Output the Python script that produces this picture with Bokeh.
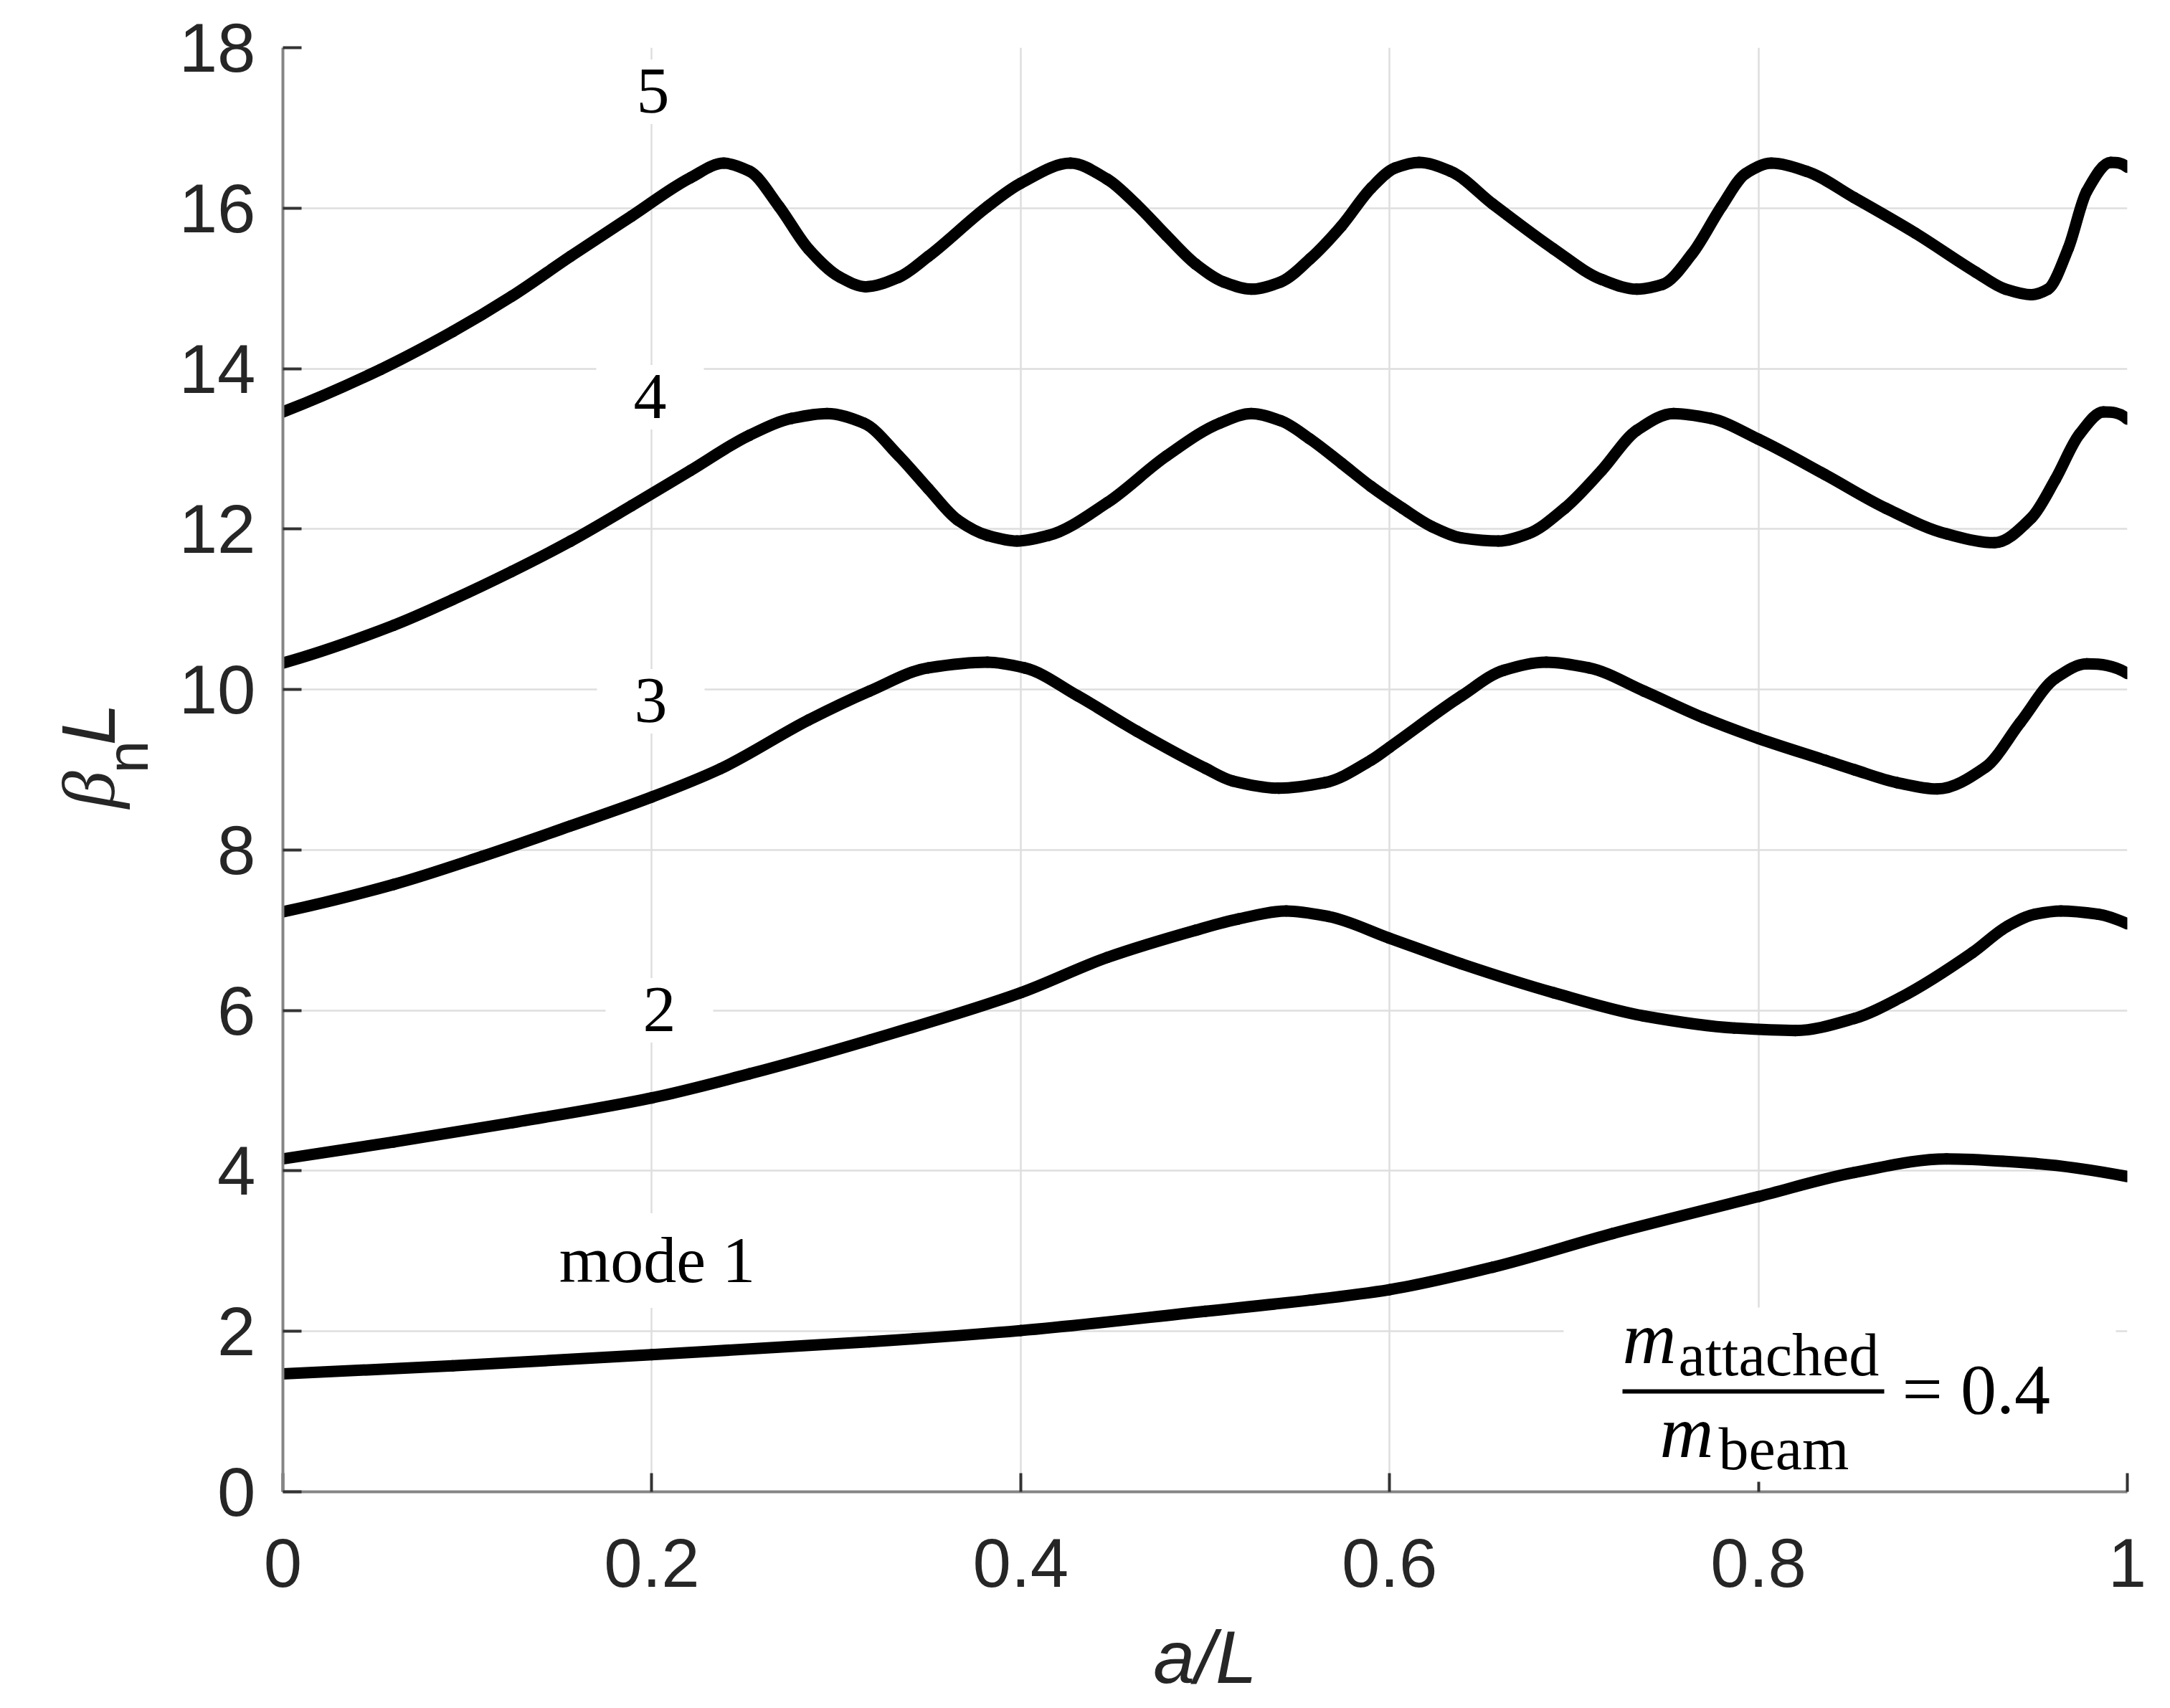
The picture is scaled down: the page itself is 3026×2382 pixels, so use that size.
import math
import numpy as np
from bokeh.plotting import figure
from bokeh.layouts import row
from bokeh.models import Range1d, FixedTicker, Label, BoxAnnotation, ColumnDataSource
from bokeh.core.properties import value
from bokeh.embed import file_html
from bokeh.resources import INLINE

# ---------------- data ----------------
mode1_x = [0.0, 0.092, 0.2, 0.318, 0.4, 0.5, 0.557, 0.6, 0.656, 0.721, 0.8, 0.852, 0.902, 0.951, 1.0]
mode1_y = [1.47, 1.57, 1.71, 1.87, 2.01, 2.25, 2.39, 2.52, 2.80, 3.22, 3.68, 3.98, 4.15, 4.09, 3.93]

mode2_x = [0.0, 0.060, 0.124, 0.2, 0.253, 0.318, 0.4, 0.447, 0.495, 0.518, 0.544, 0.567, 0.6,
           0.639, 0.689, 0.738, 0.787, 0.820, 0.852, 0.877, 0.916, 0.935, 0.950, 0.964, 0.984, 1.0]
mode2_y = [4.15, 4.36, 4.60, 4.91, 5.21, 5.63, 6.22, 6.66, 7.00, 7.14, 7.24, 7.17, 6.90,
           6.58, 6.22, 5.93, 5.78, 5.75, 5.90, 6.16, 6.72, 7.05, 7.20, 7.24, 7.20, 7.08]

mode3_x = [0.0, 0.060, 0.108, 0.156, 0.2, 0.237, 0.285, 0.318, 0.350, 0.382, 0.402, 0.431, 0.463,
           0.5, 0.515, 0.540, 0.565, 0.590, 0.6, 0.639, 0.662, 0.685, 0.708, 0.738, 0.770, 0.8,
           0.836, 0.852, 0.875, 0.897, 0.923, 0.942, 0.961, 0.978, 1.0]
mode3_y = [7.23, 7.57, 7.92, 8.30, 8.66, 9.01, 9.62, 9.98, 10.27, 10.34, 10.27, 9.92, 9.48,
           9.02, 8.86, 8.77, 8.84, 9.12, 9.28, 9.92, 10.24, 10.34, 10.27, 9.98, 9.65, 9.39,
           9.12, 9.00, 8.84, 8.76, 9.03, 9.59, 10.14, 10.32, 10.20]

mode4_x = [0.0, 0.060, 0.092, 0.124, 0.156, 0.189, 0.221, 0.253, 0.276, 0.295, 0.315, 0.334,
           0.350, 0.366, 0.382, 0.398, 0.415, 0.447, 0.479, 0.508, 0.525, 0.541, 0.557,
           0.574, 0.590, 0.607, 0.623, 0.639, 0.659, 0.675, 0.695, 0.715, 0.734, 0.754, 0.774,
           0.8, 0.836, 0.869, 0.902, 0.928, 0.948, 0.961, 0.974, 0.987, 1.0]
mode4_y = [10.33, 10.80, 11.12, 11.47, 11.85, 12.29, 12.73, 13.17, 13.38, 13.44, 13.32, 12.91,
           12.50, 12.11, 11.92, 11.85, 11.92, 12.33, 12.91, 13.32, 13.44, 13.35, 13.12,
           12.82, 12.53, 12.26, 12.03, 11.89, 11.85, 11.94, 12.26, 12.73, 13.23, 13.44, 13.38,
           13.12, 12.68, 12.26, 11.94, 11.83, 12.14, 12.62, 13.18, 13.46, 13.37]

mode5_x = [0.0, 0.053, 0.092, 0.124, 0.156, 0.189, 0.221, 0.239, 0.253, 0.269, 0.285,
           0.302, 0.316, 0.334, 0.350, 0.382, 0.4, 0.427, 0.447, 0.463, 0.479, 0.495, 0.510,
           0.525, 0.541, 0.557, 0.574, 0.590, 0.603, 0.616, 0.633, 0.656, 0.689, 0.715, 0.734,
           0.748, 0.764, 0.780, 0.793, 0.807, 0.826, 0.852, 0.885, 0.918, 0.934, 0.948, 0.957,
           0.968, 0.978, 0.991, 1.0]
mode5_y = [13.46, 13.99, 14.46, 14.90, 15.40, 15.90, 16.38, 16.56, 16.46, 16.02, 15.49,
           15.14, 15.02, 15.14, 15.40, 16.02, 16.31, 16.56, 16.36, 16.04, 15.66, 15.30, 15.08,
           14.99, 15.08, 15.37, 15.78, 16.25, 16.50, 16.57, 16.46, 16.05, 15.49, 15.11, 14.99,
           15.05, 15.43, 16.02, 16.43, 16.56, 16.46, 16.13, 15.69, 15.20, 14.99, 14.92, 14.99,
           15.50, 16.21, 16.57, 16.51]

mode_labels = ["mode 1", "2", "3", "4", "5"]
x_ticks = [0, 0.2, 0.4, 0.6, 0.8, 1]
y_ticks = [0, 2, 4, 6, 8, 10, 12, 14, 16, 18]
ratio_text = "= 0.4"

# ---------------- geometry ----------------
X_MIN, X_MAX, Y_MIN, Y_MAX = 0.0, 1.0, 0.0, 18.0
PAGE_W, PAGE_H = 3026, 2382
FL, FR, FT, FB = 394, 2966, 66, 2080      # frame edges in page pixels
LW = 240                                  # width of the strip holding the y-axis title
FIG_H = PAGE_H - 4
BASE_FIX = 0.31                           # em offset of the rendered alphabetic baseline
STRIP_DY = 98                             # measured vertical offset of the strip's text


def px2x(X):
    return X_MIN + (X - FL) / (FR - FL) * (X_MAX - X_MIN)


def px2y(Y):
    return Y_MIN + (FB - Y) / (FB - FT) * (Y_MAX - Y_MIN)


p = figure(
    frame_width=FR - FL, frame_height=FB - FT,
    x_range=Range1d(X_MIN, X_MAX), y_range=Range1d(Y_MIN, Y_MAX),
    output_backend="svg", toolbar_location=None,
    min_border_left=FL - LW, min_border_top=FT,
    min_border_right=PAGE_W - FR - 4, min_border_bottom=FIG_H - FB,
    background_fill_color="white", border_fill_color="white",
)
p.outline_line_color = None

# grid
for g in (p.xgrid[0], p.ygrid[0]):
    g.grid_line_color = "#dedede"
    g.grid_line_width = 2.5

# axes
p.xaxis.ticker = FixedTicker(ticks=x_ticks)
p.yaxis.ticker = FixedTicker(ticks=y_ticks)
p.xaxis.major_label_overrides = {0: "0", 1: "1"}
for ax in (p.xaxis[0], p.yaxis[0]):
    ax.axis_line_color = "#858585"
    ax.axis_line_width = 4
    ax.major_tick_line_color = "#333333"
    ax.major_tick_line_width = 4
    ax.major_tick_in = 26
    ax.major_tick_out = 0
    ax.minor_tick_line_color = None
    ax.major_label_text_font = "Liberation Sans"
    ax.major_label_text_font_size = "96px"
    ax.major_label_text_color = "#262626"
p.xaxis.major_label_standoff = 65
p.yaxis.major_label_standoff = 38

p.xaxis.axis_label = "a/L"
p.xaxis.axis_label_text_font = "Liberation Sans"
p.xaxis.axis_label_text_font_style = "italic"
p.xaxis.axis_label_text_font_size = "104px"
p.xaxis.axis_label_text_color = "#262626"
p.xaxis.axis_label_standoff = 37


# curves: smooth cubic segments through the read points (monotone Hermite tangents)
def hermite_slopes(x, y):
    x = np.asarray(x, float)
    y = np.asarray(y, float)
    h = np.diff(x)
    d = np.diff(y) / h
    m = np.zeros_like(y)
    for k in range(1, len(y) - 1):
        if d[k - 1] * d[k] > 0:
            w1 = 2 * h[k] + h[k - 1]
            w2 = h[k] + 2 * h[k - 1]
            m[k] = (w1 + w2) / (w1 / d[k - 1] + w2 / d[k])

    def end(h0, h1, d0, d1):
        s = ((2 * h0 + h1) * d0 - h0 * d1) / (h0 + h1)
        if np.sign(s) != np.sign(d0):
            return 0.0
        if np.sign(d0) != np.sign(d1) and abs(s) > 3 * abs(d0):
            return 3 * d0
        return s

    m[0] = end(h[0], h[1], d[0], d[1])
    m[-1] = end(h[-1], h[-2], d[-1], d[-2])
    return x, y, h, m


def smooth_curve(xs, ys):
    x, y, h, m = hermite_slopes(xs, ys)
    src = ColumnDataSource(dict(
        x0=x[:-1], y0=y[:-1], x1=x[1:], y1=y[1:],
        cx0=x[:-1] + h / 3, cy0=y[:-1] + m[:-1] * h / 3,
        cx1=x[1:] - h / 3, cy1=y[1:] - m[1:] * h / 3,
    ))
    p.bezier(x0="x0", y0="y0", x1="x1", y1="y1", cx0="cx0", cy0="cy0", cx1="cx1", cy1="cy1",
             source=src, line_color="black", line_width=16, line_cap="round")


for xs, ys in ((mode1_x, mode1_y), (mode2_x, mode2_y), (mode3_x, mode3_y),
               (mode4_x, mode4_y), (mode5_x, mode5_y)):
    smooth_curve(xs, ys)


def add_label(text, X, Y, font, size, style="normal", align="left",
              color="black", bg=None, pad=None):
    Y = Y - BASE_FIX * size
    kw = dict(x=px2x(X), y=px2y(Y), x_units="data", y_units="data", text=text,
              text_font=font, text_font_size=f"{size}px", text_font_style=style,
              text_align=align, text_baseline="alphabetic", text_color=color)
    if bg is not None:
        kw["background_fill_color"] = bg
        kw["background_fill_alpha"] = 1.0
    if pad is not None:
        kw["padding"] = pad
    lab = Label(**kw)
    p.add_layout(lab)
    return lab


# mode labels (white background hides gridlines)
mode_pad = dict(top=14, right=52, bottom=16, left=52)
label_pos = [(916, 1786), (919, 1437), (907, 1006), (906, 582), (910, 156)]
for txt, (X, Y) in zip(mode_labels, label_pos):
    add_label(txt, X, Y, "Liberation Serif", 92, align="center", bg="white", pad=mode_pad)

# mass-ratio annotation
p.add_layout(BoxAnnotation(left=px2x(2180), right=px2x(2950), bottom=px2y(2066), top=px2y(1823),
                           fill_color="white", fill_alpha=1.0, line_color=None))
add_label("m", 2262, 1897, "Liberation Serif", 104, style="italic")
add_label("attached", 2340, 1915, "Liberation Serif", 84)
add_label("m", 2314, 2028, "Liberation Serif", 104, style="italic")
add_label("beam", 2396, 2046, "Liberation Serif", 84)
add_label(ratio_text, 2652, 1968, "Liberation Serif", 100)
p.add_layout(BoxAnnotation(left=px2x(2262), right=px2x(2627), bottom=px2y(1943), top=px2y(1937),
                           fill_color="black", fill_alpha=1.0, line_color=None))

# ---------------- strip on the left holding the rotated y-axis title  beta_n L ----------------
lf = figure(width=LW, height=FIG_H, x_range=Range1d(0, LW), y_range=Range1d(0, FIG_H),
            output_backend="svg", toolbar_location=None, min_border=0,
            x_axis_location=None, y_axis_location=None,
            background_fill_color="white", border_fill_color="white")
lf.outline_line_color = None
lf.grid.visible = False


def add_vtext(text, X, Y, font, size, style="normal"):
    X = X - BASE_FIX * size
    Y = Y + STRIP_DY
    lf.text(x=[X], y=[FIG_H - Y], text=[text], angle=math.pi / 2,
            text_font=value(font), text_font_size=value(f"{size}px"),
            text_font_style=value(style), text_align="center", text_baseline="alphabetic",
            text_color="#262626")


add_vtext("β", 155, 1124, "Liberation Serif", 104, style="italic")
add_vtext("n", 202, 1070, "Liberation Sans", 82)
add_vtext("L", 155, 1016, "Liberation Sans", 106, style="italic")

layout = row(lf, p)
html = file_html(layout, INLINE, "beta_n L vs a/L")
with open("out.html", "w") as f:
    f.write(html)
